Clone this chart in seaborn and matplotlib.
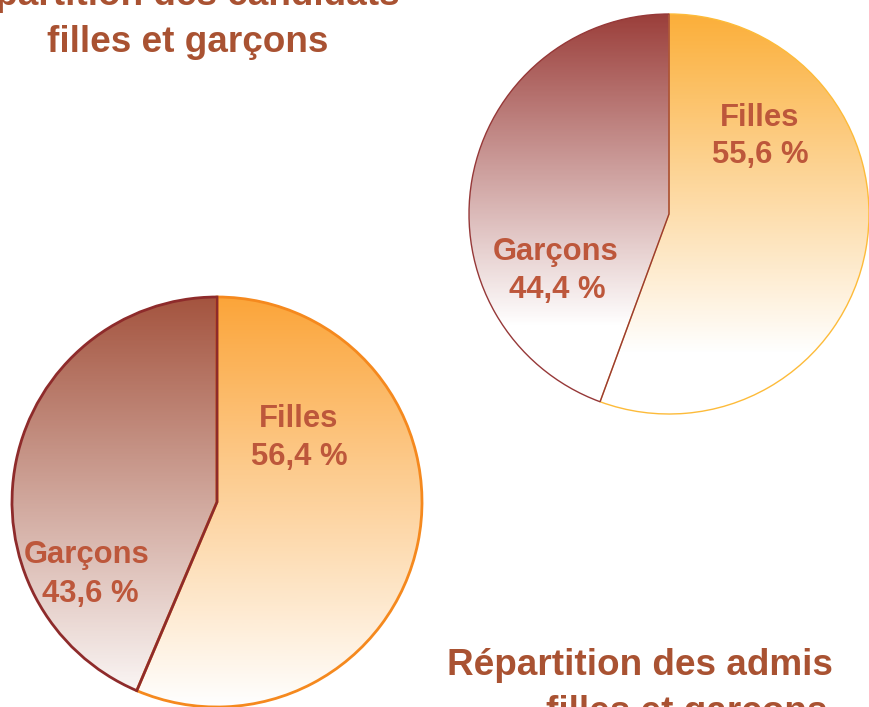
import numpy as np
import matplotlib
matplotlib.use("Agg")
import matplotlib.pyplot as plt
import seaborn as sns

# ---- data ----
categories = ["Filles", "Garçons"]
candidats = [55.6, 44.4]
admis = [56.4, 43.6]
title_candidats = ["Répartition des candidats", "filles et garçons"]
title_admis = ["Répartition des admis", "filles et garçons"]

sns.set_theme(style="white")
plt.rcParams["font.family"] = ["Liberation Sans", "DejaVu Sans"]

W, H = 870, 707
fig = plt.figure(figsize=(W / 100, H / 100), dpi=100)
fig.patch.set_facecolor("white")
ax = fig.add_axes([0, 0, 1, 1])

TITLE_C = "#A95232"
LABEL_C = "#BD573B"


def py(y):
    return H - y


def draw_pie(values, cx, cy, r, tops, fracs, edges, lw):
    wedges, _ = ax.pie(values, center=(cx, py(cy)), radius=r, startangle=90,
                       counterclock=False, frame=True,
                       wedgeprops=dict(linewidth=lw))
    grad = np.linspace(0, 1, 400).reshape(-1, 1)
    for w, top, f, ec in zip(wedges, tops, fracs, edges):
        w.set_facecolor("none")
        w.set_edgecolor(ec)
        w.set_zorder(3)
        cmap = sns.blend_palette([top, "#FFFFFF"], as_cmap=True)
        im = ax.imshow(np.clip(grad / f, 0, 1), cmap=cmap, vmin=0, vmax=1,
                       extent=[cx - r, cx + r, py(cy) - r, py(cy) + r],
                       origin="upper", aspect="auto", zorder=2,
                       interpolation="bilinear")
        im.set_clip_path(w)
    return wedges


def pct(v):
    return f"{v:.1f} %".replace(".", ",")


# top-right pie (candidats)
draw_pie(candidats, 669, 214, 200,
         ["#FBAF3A", "#9B3F3B"], [0.85, 0.78],
         ["#FDBB3A", "#963838"], 1.0)
# bottom-left pie (admis)
draw_pie(admis, 217, 502, 205,
         ["#FBA53A", "#A4543F"], [1.0, 1.02],
         ["#F5891E", "#8E2B2B"], 2.0)

lab_fs = 22.3
lab_kw = dict(color=LABEL_C, fontsize=lab_fs, fontweight="bold",
              ha="center", va="baseline", zorder=5)
# candidats labels
ax.text(760, py(126), categories[0], **lab_kw)
ax.text(760, py(163), pct(candidats[0]), **lab_kw)
ax.text(556, py(260), categories[1], **lab_kw)
ax.text(557, py(298), pct(candidats[1]), **lab_kw)
# admis labels
ax.text(299, py(427), categories[0], **lab_kw)
ax.text(299, py(465), pct(admis[0]), **lab_kw)
ax.text(87, py(563), categories[1], **lab_kw)
ax.text(90, py(602), pct(admis[1]), **lab_kw)

tit_fs = 26.6
tit_kw = dict(color=TITLE_C, fontsize=tit_fs, fontweight="bold",
              ha="center", va="baseline", zorder=5)
ax.text(174, py(5), title_candidats[0], **tit_kw)
ax.text(188, py(52), title_candidats[1], **tit_kw)
ax.text(640, py(675), title_admis[0], **tit_kw)
ax.text(687, py(722), title_admis[1], **tit_kw)

ax.set_xlim(0, W)
ax.set_ylim(0, H)
ax.set_aspect("auto")
ax.axis("off")

fig.savefig("out.png", dpi=100, facecolor="white")
